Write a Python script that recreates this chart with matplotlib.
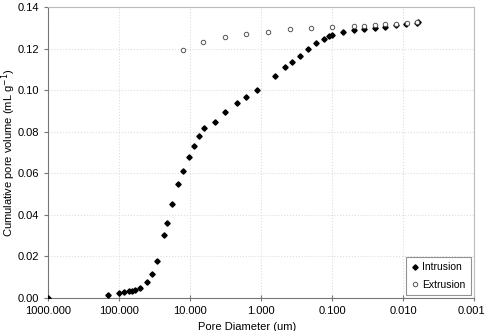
import numpy as np
import matplotlib
matplotlib.use('Agg')
import matplotlib.pyplot as plt
import matplotlib.transforms as mtransforms
from matplotlib.ticker import FixedLocator, FormatStrFormatter, NullLocator

plt.rcParams['font.family'] = ['Liberation Sans', 'DejaVu Sans']

# ============ 数据 ============
intrusion_d = [1000.0, 144, 100, 84, 73, 65.6, 59, 50, 40, 34.7, 29.5, 23.5, 21, 18,
               14.6, 12.6, 10.4, 8.9, 7.5, 6.3, 4.45, 3.18, 2.2, 1.61, 1.14, 0.64,
               0.455, 0.366, 0.282, 0.216, 0.168, 0.13, 0.109, 0.1, 0.071, 0.0495,
               0.0358, 0.0251, 0.018, 0.0126, 0.009, 0.0064, 0.0061]
intrusion_v = [0.0, 0.0014, 0.0025, 0.0029, 0.0032, 0.0034, 0.0038, 0.005, 0.0075,
               0.0117, 0.0178, 0.0305, 0.0362, 0.0454, 0.0548, 0.0611, 0.068, 0.0733,
               0.0778, 0.0819, 0.0845, 0.0895, 0.0936, 0.0965, 0.1002, 0.1068, 0.111,
               0.1135, 0.1166, 0.1197, 0.1225, 0.1248, 0.1259, 0.1265, 0.1278, 0.1288,
               0.1294, 0.130, 0.1305, 0.1312, 0.1317, 0.1324, 0.1326]

extrusion_d = [12.7, 6.56, 3.18, 1.63, 0.79, 0.395, 0.198, 0.1, 0.0495, 0.0355,
               0.025, 0.0178, 0.0126, 0.0089, 0.0064]
extrusion_v = [0.1191, 0.123, 0.1255, 0.1271, 0.1281, 0.1292, 0.1298, 0.1302, 0.1306,
               0.131, 0.1313, 0.1317, 0.132, 0.1324, 0.1327]

x_ticks = [1000, 100, 10, 1, 0.1, 0.01, 0.001]
y_ticks = [0.00, 0.02, 0.04, 0.06, 0.08, 0.10, 0.12, 0.14]

# ============ 绘图 ============
fig = plt.figure(figsize=(4.86, 3.31), dpi=100)
ax = fig.add_axes([0.0988, 0.0997, 0.8765, 0.8793])

ax.plot(intrusion_d, intrusion_v, linestyle='none', marker='D', markersize=2.7,
        color='black', label='Intrusion', zorder=3)
ax.plot(extrusion_d, extrusion_v, linestyle='none', marker='o', markersize=3.2,
        markerfacecolor='white', markeredgecolor='#555555', markeredgewidth=0.7,
        label='Extrusion', zorder=3)

ax.set_xscale('log')
ax.set_xlim(1000, 0.001)
ax.set_ylim(0, 0.14)
ax.xaxis.set_major_locator(FixedLocator(x_ticks))
ax.xaxis.set_minor_locator(NullLocator())
ax.xaxis.set_major_formatter(FormatStrFormatter('%.3f'))
ax.set_yticks(y_ticks)
ax.yaxis.set_major_formatter(FormatStrFormatter('%.2f'))

ax.grid(True, color='#dddddd', linestyle=':', linewidth=0.8)
ax.set_axisbelow(True)
for s in ['top', 'right']:
    ax.spines[s].set_color('#bbbbbb')
for s in ['left', 'bottom']:
    ax.spines[s].set_color('#777777')
ax.tick_params(axis='x', direction='inout', length=5, color='#777777', labelsize=8)
ax.tick_params(axis='y', direction='out', length=3, color='#777777', labelsize=8)

# 最右侧刻度标签稍向左移，避免被裁切
last = ax.get_xticklabels()[-1]
last.set_transform(last.get_transform() +
                   mtransforms.ScaledTranslation(-3 / 100, 0, fig.dpi_scale_trans))

ax.set_xlabel('Pore Diameter (um)', fontsize=8)
ax.xaxis.set_label_coords(0.467, -0.083)
ax.set_ylabel('Cumulative pore volume (mL g$^{-1}$)', fontsize=8)
ax.yaxis.set_label_coords(-0.07, 0.5)

leg = ax.legend(loc='lower right', fontsize=7.5, frameon=True, fancybox=False,
                handlelength=0.8, handletextpad=0.3, borderpad=0.5,
                labelspacing=0.7, borderaxespad=0.3)
leg.get_frame().set_edgecolor('#777777')
leg.get_frame().set_linewidth(0.8)

plt.savefig('out.png', dpi=100)
plt.close()
